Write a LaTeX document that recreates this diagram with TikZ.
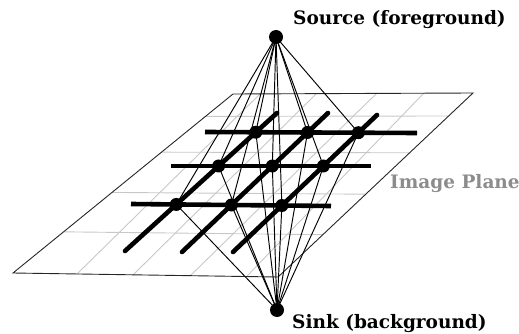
\documentclass[tikz,border=0pt]{standalone}
\usepackage{fontspec}
\setmainfont{DejaVu Serif}
\usetikzlibrary{calc}
\definecolor{gridgray}{RGB}{200,200,200}
\definecolor{lblgray}{RGB}{140,140,140}
\tikzset{
  planeedge/.style={draw=black!85, line width=0.9pt},
  gridline/.style={draw=gridgray, line width=0.9pt},
  edgeline/.style={draw=black, line width=0.95pt},
  barline/.style={draw=black, line width=4.6pt},
  vertex/.style={circle, fill=black, inner sep=0pt, minimum size=13pt},
  terminal/.style={circle, fill=black, inner sep=0pt, minimum size=14pt},
  lbl/.style={inner sep=0pt, font=\fontsize{18.5}{20}\selectfont\bfseries}
}
\begin{document}
\begin{tikzpicture}[x=1pt,y=-1pt]
\useasboundingbox (0,0) rectangle (519,334);
% plane corners
\coordinate (TL) at (233,94);
\coordinate (TR) at (473,93);
\coordinate (BR) at (278,277);
\coordinate (BL) at (13,273);
% gray grid
\foreach \t in {0.125,0.325,0.55,0.77}
  \draw[gridline] ($(TL)!\t!(BL)$) -- ($(TR)!\t!(BR)$);
\draw[gridline] (77,274) -- (260,94);
\draw[gridline] (133,275) -- (316,94);
\draw[gridline] (190,276) -- (377,93);
\draw[gridline] (247,276) -- (424,93);
% plane outline
\draw[planeedge] (TL) -- (TR) -- (BR) -- (BL) -- cycle;
% bars
\coordinate (h1a) at (205,132); \coordinate (h1b) at (417,133);
\coordinate (h2a) at (171,166); \coordinate (h2b) at (371,166);
\coordinate (h3a) at (131,204); \coordinate (h3b) at (331,206);
\coordinate (s1a) at (125,251); \coordinate (s1b) at (277,113);
\coordinate (s2a) at (182,252); \coordinate (s2b) at (328,113);
\coordinate (s3a) at (233,252); \coordinate (s3b) at (377,115);
\foreach \r in {1,2,3}
  \foreach \c in {1,2,3}
    \coordinate (p\r\c) at (intersection of h\r a--h\r b and s\c a--s\c b);
% terminals
\node[terminal] (src) at (276,37) {};
\node[terminal] (snk) at (277,310) {};
% thin edges
\foreach \r in {1,2,3}
  \foreach \c in {1,2,3} {
    \draw[edgeline] (src.center) -- (p\r\c);
    \draw[edgeline] (snk.center) -- (p\r\c);
  }
\foreach \r in {1,2,3} {
  \draw[barline] (h\r a) -- (h\r b);
  \draw[barline, line cap=round] (s\r a) -- (s\r b);
}
\foreach \r in {1,2,3}
  \foreach \c in {1,2,3}
    \node[vertex] (n\r\c) at (p\r\c) {};
% labels
\node[lbl, anchor=base west] (srclbl) at (293,25) {Source (foreground)};
\node[lbl, anchor=base west] (snklbl) at (292,328) {Sink (background)};
\node[lbl, anchor=base west, text=lblgray] (planelbl) at (390,188) {Image Plane};
\end{tikzpicture}
\end{document}
